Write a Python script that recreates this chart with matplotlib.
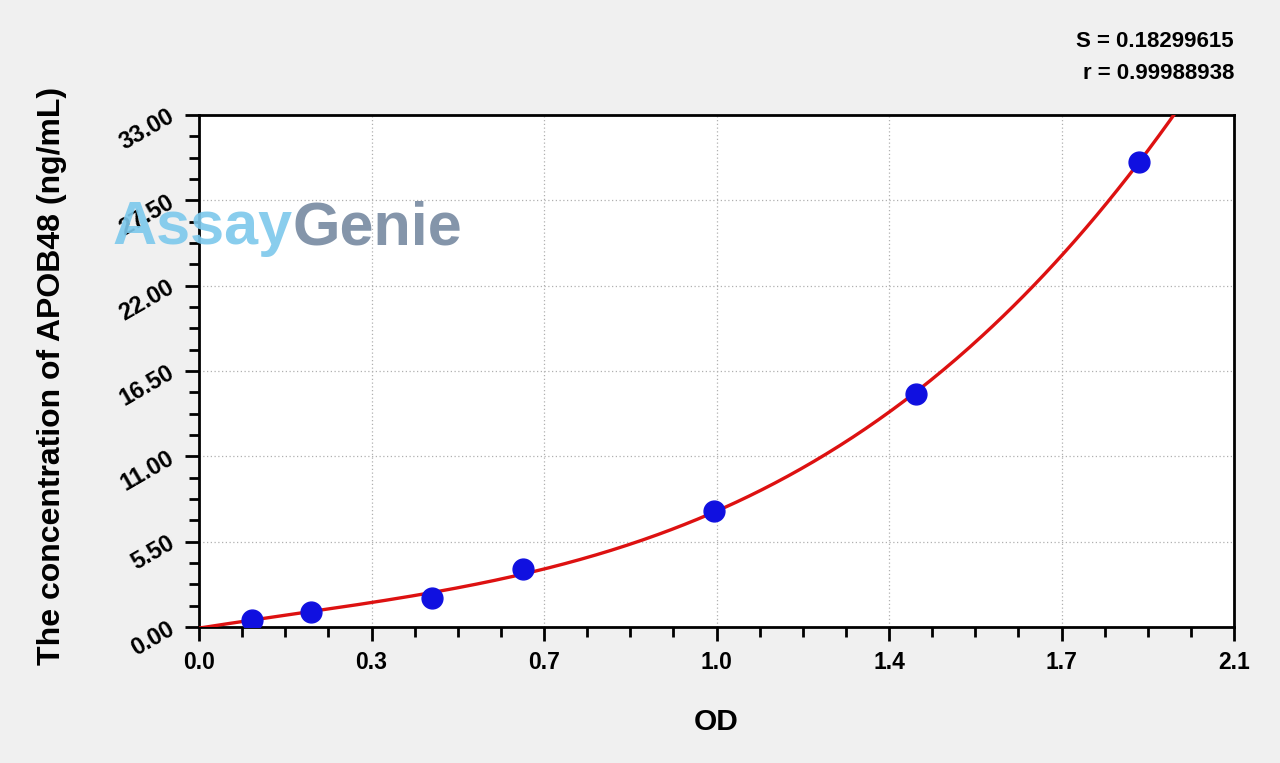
import numpy as np
import matplotlib.pyplot as plt
from matplotlib.ticker import AutoMinorLocator

plt.rcParams['font.family'] = ['Liberation Sans', 'DejaVu Sans']

# standard points
od = [0.107, 0.227, 0.473, 0.657, 1.045, 1.455, 1.907]
conc = [0.469, 0.938, 1.875, 3.75, 7.5, 15.0, 30.0]

xticks = [0.0, 0.35, 0.7, 1.05, 1.4, 1.75, 2.1]
xlabels = ['0.0', '0.3', '0.7', '1.0', '1.4', '1.7', '2.1']
yticks = [0.0, 5.5, 11.0, 16.5, 22.0, 27.5, 33.0]
ylabels = ['0.00', '5.50', '11.00', '16.50', '22.00', '27.50', '33.00']

s_text = 'S = 0.18299615'
r_text = 'r = 0.99988938'

# fitted curve (cubic through the standards and the origin)
coef = np.polyfit([0.0] + od, [0.0] + conc, 3)
xf = np.linspace(0, 2.1, 400)
yf = np.polyval(coef, xf)

fig = plt.figure(figsize=(12.8, 7.63), dpi=100, facecolor='#f0f0f0')
ax = fig.add_axes([0.1555, 0.1782, 0.8086, 0.6710])
ax.set_facecolor('white')

ax.grid(True, color='#b0b0b0', linestyle=(0, (1, 2)), linewidth=0.9)
ax.set_axisbelow(True)

ax.plot(xf, yf, color='#dd1111', linewidth=2.4, zorder=3)
ax.plot(od, conc, 'o', color='#1010e0', markersize=15, zorder=4)

ax.set_xlim(0, 2.1)
ax.set_ylim(0, 33)
ax.set_xticks(xticks)
ax.set_xticklabels(xlabels)
ax.set_yticks(yticks)
ax.set_yticklabels(ylabels, rotation=30, ha='right', va='center', rotation_mode='anchor')
ax.xaxis.set_minor_locator(AutoMinorLocator(4))
ax.yaxis.set_minor_locator(AutoMinorLocator(4))

for sp in ax.spines.values():
    sp.set_linewidth(2)
ax.tick_params(which='major', direction='out', length=10, width=2, labelsize=16.5, pad=7)
ax.tick_params(axis='y', which='major', labelsize=17, pad=9)
ax.tick_params(which='minor', direction='out', length=7, width=2)
for lab in ax.get_xticklabels() + ax.get_yticklabels():
    lab.set_fontweight('bold')

ax.set_xlabel('OD', fontsize=21.5, fontweight='bold', labelpad=25)
ax.set_ylabel('The concentration of APOB48 (ng/mL)', fontsize=23, fontweight='bold')
ax.yaxis.set_label_coords(-0.128, 0.49)

fig.text(0.9641, 0.945, s_text, ha='right', va='center', fontsize=16, fontweight='bold')
fig.text(0.9641, 0.904, r_text, ha='right', va='center', fontsize=16, fontweight='bold')

# watermark
fig.canvas.draw()
t1 = fig.text(0.088, 0.700, 'Assay', color='#7cc8ec', fontsize=44, fontweight='bold', va='center', alpha=0.9)
bb = t1.get_window_extent(fig.canvas.get_renderer())
fig.text(bb.x1 / fig.bbox.width, 0.700, 'Genie', color='#7d8fa6', fontsize=44, fontweight='bold', va='center', alpha=0.95)

fig.savefig('out.png', dpi=100, facecolor=fig.get_facecolor())
